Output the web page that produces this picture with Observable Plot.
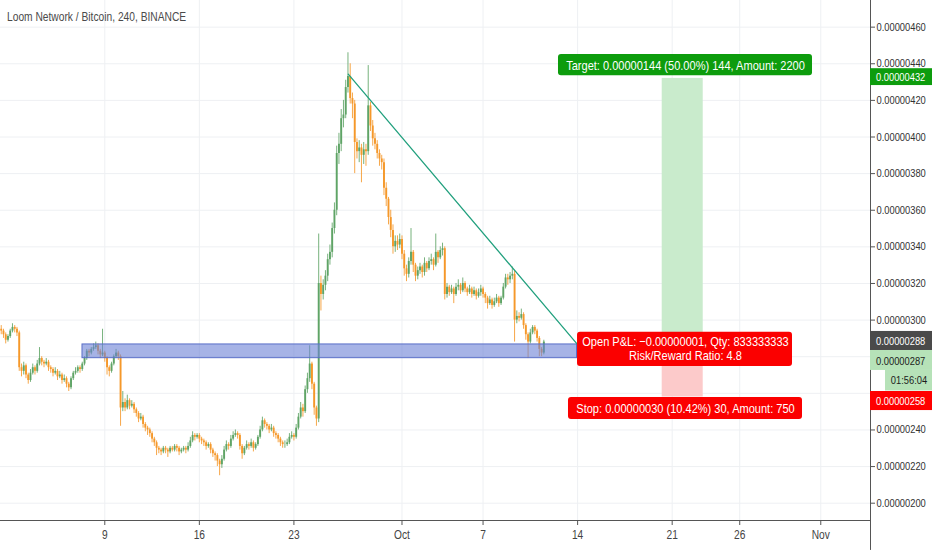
<!DOCTYPE html>
<html><head><meta charset="utf-8">
<script src="https://cdn.jsdelivr.net/npm/d3@7"></script>
<script src="https://cdn.jsdelivr.net/npm/@observablehq/plot@0.6"></script>
<style>
body{margin:0;background:#fff;}
#wrap{position:relative;width:932px;height:550px;overflow:hidden;}
#title{position:absolute;left:7px;top:9px;font:13.5px "Liberation Sans",Arial,sans-serif;color:#4a4a4a;white-space:nowrap;transform-origin:0 0;}
</style></head><body><div id="wrap"><div id="title">Loom Network / Bitcoin, 240, BINANCE</div></div>
<script>
// 4h candles (satoshi), first bar 2019-09-01 08:00 UTC
const startTime = "2019-09-01T08:00Z";
const barHours = 4;
const open = [295,294,292,289,291,294,296,295,293,274, 272,275,270,267,271,274,272,276,279,277,
 276,277,274,273,271,272,269,270,267,268, 265,263,268,271,272,274,273,276,279,283,
 282,284,285,286,283,281,282,279,274,272, 276,280,282,280,252,255,252,256,253,254,
 251,249,246,247,243,241,240,238,235,233, 230,229,228,230,229,228,230,229,231,230,
 228,229,230,229,231,234,237,236,237,235, 234,233,231,232,229,227,226,223,221,224,
 229,232,231,235,237,238,237,231,227,230, 232,231,233,230,232,236,240,245,243,242,
 240,241,238,237,235,233,232,232,233,236, 237,236,241,247,252,250,262,268,276,265,
 252,246,320,314,319,324,333,337,350,360, 391,396,410,412,427,433,421,418,397,392,
 394,390,393,392,417,406,399,396,391,388, 386,372,366,356,349,340,343,341,344,336,
 328,325,332,337,330,324,327,329,326,331, 328,332,333,330,337,334,338,339,314,318,
 315,317,314,318,319,316,320,317,315,317, 314,316,313,315,317,314,312,309,311,308,
 310,312,309,312,318,323,322,324,325,300, 302,301,303,297,292,288,293,296,294,290,
 284,282];
const high = [297,295,293,292,295,298,297,296,294,276, 277,276,271,273,276,275,278,285,280,278,
 279,278,275,274,274,273,272,271,270,269, 266,269,272,274,275,275,277,280,284,284,
 285,287,288,287,284,295,283,280,275,277, 281,284,283,281,261,257,259,257,256,255,
 252,250,249,248,244,242,241,239,236,234, 231,230,231,231,230,231,231,232,232,231,
 230,231,231,233,236,239,238,238,238,236, 235,234,233,233,230,228,227,224,226,231,
 234,233,237,239,240,239,238,232,231,234, 233,235,234,233,237,242,247,246,244,243,
 243,242,239,238,236,234,234,235,238,239, 238,243,249,255,254,264,271,286,277,266,
 253,347,324,322,327,336,341,353,364,395, 402,415,420,431,446,440,424,420,399,398,
 396,397,396,439,419,409,402,398,393,390, 388,375,367,360,352,346,346,347,346,338,
 330,334,350,338,331,329,331,330,334,332, 334,336,334,347,338,340,342,340,320,319,
 319,318,320,322,320,323,321,318,319,318, 318,317,317,319,318,315,313,313,312,312,
 314,313,313,320,325,325,326,329,327,305, 304,306,304,298,293,295,297,297,295,291,
 285,289];
const low = [292,290,287,288,290,293,293,291,272,269, 270,268,265,266,270,270,271,275,275,274,
 275,272,271,269,270,267,268,265,266,263, 261,262,267,270,271,271,272,275,278,280,
 281,283,284,281,279,280,277,270,269,271, 275,279,278,242,250,250,251,251,252,249,
 247,244,245,241,239,237,236,233,231,226, 227,226,227,227,225,227,228,228,228,226,
 227,228,227,228,230,233,234,235,233,232, 231,229,230,227,225,223,220,215,219,223,
 228,229,230,234,236,235,229,224,226,229, 229,230,228,229,231,235,239,241,240,238,
 239,236,235,233,231,230,230,231,232,235, 234,235,240,246,247,249,260,266,262,248,
 242,244,305,311,316,321,330,334,347,357, 385,392,405,410,424,418,410,380,388,386,
 375,385,384,390,403,395,393,388,384,382, 368,362,352,345,336,337,338,339,333,324,
 321,323,330,326,321,322,325,323,324,326, 327,330,327,329,331,333,335,311,312,313,
 314,309,313,316,314,315,315,313,314,312, 313,311,312,313,312,309,306,308,306,307,
 309,307,308,311,317,319,320,322,288,298, 299,300,295,289,279,287,292,292,288,280,
 280,281];
const close = [294,292,289,291,294,296,295,293,274,272, 275,270,267,271,274,272,276,279,277,276,
 277,274,273,271,272,269,270,267,268,265, 263,268,271,272,274,273,276,279,283,282,
 284,285,286,283,281,282,279,274,272,276, 280,282,280,252,255,252,256,253,254,251,
 249,246,247,243,241,240,238,235,233,230, 229,228,230,229,228,230,229,231,230,228,
 229,230,229,231,234,237,236,237,235,234, 233,231,232,229,227,226,223,221,224,229,
 232,231,235,237,238,237,231,227,230,232, 231,233,230,232,236,240,245,243,242,240,
 241,238,237,235,233,232,232,233,236,237, 236,241,247,252,250,262,268,276,265,252,
 246,320,314,319,324,333,337,350,360,391, 396,410,412,427,433,421,418,397,392,394,
 390,393,392,417,406,399,396,391,388,386, 372,366,356,349,340,343,341,344,336,328,
 325,332,337,330,324,327,329,326,331,328, 332,333,330,337,334,338,339,314,318,315,
 317,314,318,319,316,320,317,315,317,314, 316,313,315,317,314,312,309,311,308,310,
 312,309,312,318,323,322,324,325,300,302, 301,303,297,292,288,293,296,294,290,284,
 282,288];

const yTicks = [200,220,240,260,280,300,320,340,360,380,400,420,440,460];
const yTicksHidden = [260,280]; // covered by the price tags on the scale
const xTickDates = ["2019-09-09","2019-09-16","2019-09-23","2019-10-01","2019-10-07","2019-10-14","2019-10-21","2019-10-26","2019-11-01"];
const xTickLabels = ["9","16","23","Oct","7","14","21","26","Nov"];

// annotations (dates / prices)
const zone = {from:"2019-09-07T08:22Z", to:"2019-10-13T22:55Z", lo:279.2, hi:286.7};
const trend = [{t:"2019-09-27T00:30Z", v:434.3},{t:"2019-10-13T22:55Z", v:287.0}];
const position = {from:"2019-10-20T06:17Z", to:"2019-10-23T07:08Z", target:432, entry:288, stop:258};
const labelBoxes = [
  {x1:"2019-10-12T14:02Z", x2:"2019-10-31T09:18Z", y1:433.5, y2:445.1, fill:"#0d9c0d"},
  {x1:"2019-10-13T23:50Z", x2:"2019-10-29T21:46Z", y1:274.7, y2:293.4, fill:"#fb0000"},
  {x1:"2019-10-13T07:48Z", x2:"2019-10-30T15:32Z", y1:245.7, y2:257.7, fill:"#fb0000"}
];
const labelTexts = [
  {x:"2019-10-21T23:40Z", y:439.2, text:"Target: 0.00000144 (50.00%) 144, Amount: 2200"},
  {x:"2019-10-21T23:40Z", y:284.3, text:"Open P&L: \u22120.00000001, Qty: 833333333\nRisk/Reward Ratio: 4.8"},
  {x:"2019-10-21T23:40Z", y:251.7, text:"Stop: 0.00000030 (10.42%) 30, Amount: 750"}
];
const axisEnd = "2019-11-04T16:20Z", svgEnd = "2019-11-09T06:30Z", labelStart = "2019-11-05T02:07Z";
const priceTags = [
  {x1:axisEnd, y1:428.1, y2:437.3, fill:"#0d9c0d", color:"#fff", ty:432.7, text:"0.00000432"},
  {x1:axisEnd, y1:283.4, y2:293.8, fill:"#4a4a4a", color:"#fff", ty:288.5, text:"0.00000288"},
  {x1:axisEnd, y1:272.5, y2:283.4, fill:"#b6e2b8", color:"#1c1c1c", ty:277.6, text:"0.00000287"},
  {x1:axisEnd, y1:250.6, y2:261.0, fill:"#ff0000", color:"#fff", ty:255.8, text:"0.00000258"}
];
const countdown = {x1:"2019-11-05T18:58Z", y1:261.3, y2:272.5, fill:"#b6e2b8", color:"#1c1c1c", tx:"2019-11-07T12:45Z", ty:266.8, text:"01:56:04"};

const D = s => new Date(s);
const t0 = +D(startTime);
const candles = close.map((c, i) => ({t: new Date(t0 + i * barHours * 3600e3), o: open[i], h: high[i], l: low[i], c}));
const up = candles.filter(d => d.c >= d.o), down = candles.filter(d => d.c < d.o);
const GREEN = "#5fa466", ORANGE = "#f5982a";
const xDomain = [D("2019-09-01T06:43Z"), D(axisEnd)];
const yDomain = [190.55, 474.55];
const tickDates = xTickDates.map(s => D(s + "T00:00Z"));
const labMap = new Map(tickDates.map((d, i) => [+d, xTickLabels[i]]));
const FONT = '"Liberation Sans",Arial,sans-serif';

const chart = Plot.plot({
  width: 932, height: 550,
  marginLeft: 0, marginRight: 62, marginTop: 0, marginBottom: 30,
  style: {fontFamily: FONT, fontSize: "11px", color: "#333", background: "#fff", overflow: "visible"},
  x: {type: "utc", domain: xDomain, label: null},
  y: {domain: yDomain, label: null},
  marks: [
    Plot.ruleY(yTicks, {stroke: "#eef0f3"}),
    Plot.ruleX(tickDates, {stroke: "#eef0f3"}),
    Plot.rect([position], {x1: d => D(d.from), x2: d => D(d.to), y1: "entry", y2: "target", fill: "#c9ebcc"}),
    Plot.rect([position], {x1: d => D(d.from), x2: d => D(d.to), y1: "stop", y2: "entry", fill: "#fccaca"}),
    Plot.ruleX(up, {x: "t", y1: "l", y2: "h", stroke: GREEN, strokeWidth: 1, strokeOpacity: 0.85}),
    Plot.ruleX(down, {x: "t", y1: "l", y2: "h", stroke: ORANGE, strokeWidth: 1, strokeOpacity: 0.85}),
    Plot.ruleX(up, {x: "t", y1: "o", y2: "c", stroke: GREEN, strokeWidth: 1.9}),
    Plot.ruleX(down, {x: "t", y1: "o", y2: "c", stroke: ORANGE, strokeWidth: 1.9}),
    Plot.rect([zone], {x1: d => D(d.from), x2: d => D(d.to), y1: "lo", y2: "hi", fill: "#6a80d6", fillOpacity: 0.6, stroke: "#5a6fc8", strokeWidth: 1}),
    Plot.line(trend, {x: d => D(d.t), y: "v", stroke: "#22a07e", strokeWidth: 1.3}),
    Plot.ruleY([yDomain[0]], {x1: xDomain[0], x2: xDomain[1], stroke: "#555", strokeWidth: 1}),
    Plot.ruleX([xDomain[1]], {y1: 174.2, y2: yDomain[1], stroke: "#555", strokeWidth: 1}),
    Plot.axisY({anchor: "right", label: null, ticks: yTicks, tickFormat: null, text: null, tickSize: 4, stroke: "#555"}),
    Plot.axisY({anchor: "right", label: null, ticks: yTicks.filter(v => !yTicksHidden.includes(v)), tickFormat: v => (v / 1e8).toFixed(8), tickSize: 0, tickPadding: 6, fontSize: 11, fill: "#333"}),
    Plot.axisX({label: null, ticks: tickDates, tickFormat: d => labMap.get(+d), tickSize: 5, tickPadding: 5, fontSize: 12, stroke: "#555", fill: "#444"}),
    Plot.rect(labelBoxes, {x1: d => D(d.x1), x2: d => D(d.x2), y1: "y1", y2: "y2", fill: d => d.fill, rx: 3}),
    Plot.text(labelTexts, {x: d => D(d.x), y: "y", text: "text", fill: "#fff", fontSize: 13, lineHeight: 1.05}),
    Plot.rect(priceTags, {x1: d => D(d.x1), x2: () => D(svgEnd), y1: "y1", y2: "y2", fill: d => d.fill}),
    Plot.text(priceTags, {x: () => D(labelStart), y: "ty", text: "text", fill: d => d.color, textAnchor: "start", fontSize: 11}),
    Plot.rect([countdown], {x1: d => D(d.x1), x2: () => D(svgEnd), y1: "y1", y2: "y2", fill: countdown.fill}),
    Plot.text([countdown], {x: d => D(d.tx), y: "ty", text: "text", fill: countdown.color, fontSize: 11})
  ]
});
document.getElementById("wrap").prepend(chart);
// narrow the glyphs around each text's anchor (TradingView uses a condensed face)
chart.querySelectorAll("text").forEach(t => {
  const tr = t.getAttribute("transform");
  if (tr) t.setAttribute("transform", tr + " scale(0.85,1)");
  else {
    const x = +(t.getAttribute("x") || 0), y = +(t.getAttribute("y") || 0);
    t.removeAttribute("x"); t.removeAttribute("y");
    t.setAttribute("transform", `translate(${x},${y}) scale(0.85,1)`);
  }
});
const title = document.getElementById("title");
title.style.transform = `scaleX(${(179 / title.offsetWidth).toFixed(3)})`;
</script></body></html>
